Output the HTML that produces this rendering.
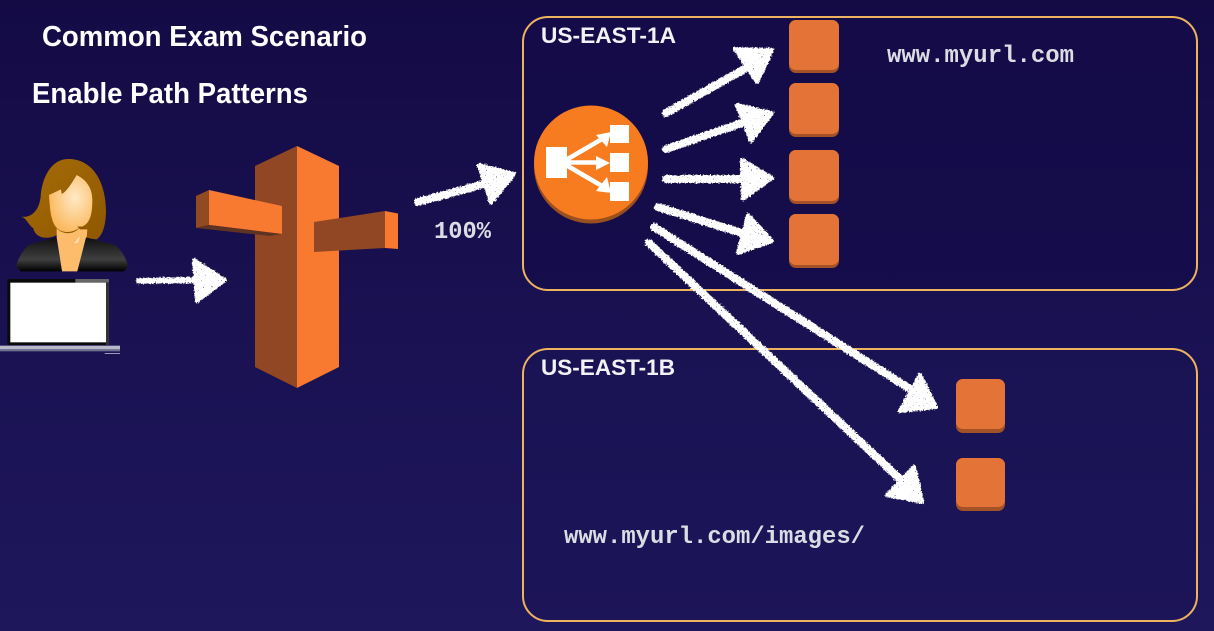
<!DOCTYPE html>
<html><head><meta charset="utf-8"><style>
html,body{margin:0;padding:0;width:1214px;height:631px;overflow:hidden;background:#17104f}
svg{display:block}
text{font-family:"Liberation Sans",sans-serif}
.h{font-weight:bold;font-size:28.500px;fill:#fff}
.z{font-weight:bold;font-size:22.500px;fill:#f2f2f6}
.m{font-family:"Liberation Mono",monospace;font-weight:bold;font-size:24px;fill:#dcdce4}
</style></head><body>
<svg width="1214" height="631" viewBox="0 0 1214 631" xmlns="http://www.w3.org/2000/svg">
<defs>
<linearGradient id="bg" x1="0" y1="0" x2="0" y2="1"><stop offset="0" stop-color="#140b45"/><stop offset="1" stop-color="#1e175c"/></linearGradient>
<radialGradient id="face" cx=".6" cy=".4" r=".62"><stop offset="0" stop-color="#ffe9c6"/><stop offset="1" stop-color="#fbb95f"/></radialGradient>
<linearGradient id="hair" x1="0" y1="0" x2="1" y2="1"><stop offset="0" stop-color="#a66c08"/><stop offset="1" stop-color="#8f5800"/></linearGradient>
<linearGradient id="coat" x1="0" y1="0" x2="0" y2="1"><stop offset="0" stop-color="#101010"/><stop offset=".65" stop-color="#3f3f3f"/><stop offset="1" stop-color="#000"/></linearGradient>
<filter id="chalk" x="-5%" y="-5%" width="110%" height="110%" color-interpolation-filters="sRGB">
<feTurbulence type="fractalNoise" baseFrequency=".6" numOctaves="2" seed="4" result="n"/>
<feDisplacementMap in="SourceGraphic" in2="n" scale="4" xChannelSelector="R" yChannelSelector="G" result="d"/>
<feColorMatrix in="n" type="matrix" values="0 0 0 0 0 0 0 0 0 0 0 0 0 0 0 22 0 0 0 -16.500" result="holes"/>
<feComposite in="d" in2="holes" operator="out"/>
</filter>
</defs>
<rect width="1214" height="631" fill="url(#bg)"/>
<rect x="523" y="17" width="674" height="273" rx="25" fill="#140c4a" fill-opacity=".6" stroke="#edb35f" stroke-width="2"/>
<rect x="523" y="349" width="674" height="272" rx="25" fill="#1b1455" fill-opacity=".6" stroke="#edb35f" stroke-width="2"/>

<text class="h" x="42" y="46" textLength="325" lengthAdjust="spacingAndGlyphs">Common Exam Scenario</text>
<text class="h" x="32" y="103" textLength="276" lengthAdjust="spacingAndGlyphs">Enable Path Patterns</text>
<text class="z" x="541" y="43" textLength="135" lengthAdjust="spacingAndGlyphs">US-EAST-1A</text>
<text class="z" x="541" y="375" textLength="134" lengthAdjust="spacingAndGlyphs">US-EAST-1B</text>
<text class="m" x="887" y="62" textLength="187" lengthAdjust="spacingAndGlyphs">www.myurl.com</text>
<text class="m" x="564" y="543" textLength="301" lengthAdjust="spacingAndGlyphs">www.myurl.com/images/</text>
<text class="m" x="434" y="238" textLength="57" lengthAdjust="spacingAndGlyphs">100%</text>

<!-- person -->
<g transform="translate(0 150) scale(.33333)">
<path d="M205 27C150 27 125 90 122 140C118 180 95 205 64 200C80 205 85 225 100 235C105 262 140 272 170 255L290 268C310 255 318 220 318 180C316 90 275 27 205 27Z" fill="url(#hair)"/>
<path d="M170 235L170 262L186 364L232 364L260 262L262 238L240 232C220 255 190 255 170 235Z" fill="#fdbc6b"/>
<path d="M230 75C215 100 200 125 185 132L183 118L147 135C150 170 150 215 172 235C190 250 215 250 240 232C265 225 277 205 277 150C277 115 260 90 230 75Z" fill="url(#face)"/>
<path d="M232 230C245 228 255 232 262 238L240 238Z" fill="#8f5800"/>
<path d="M222 280L240 258L234 278Z" fill="#ffe3b8"/>
<path d="M168 262L90 283C70 295 55 325 48 348L62 364L186 364ZM258 262L345 285C365 300 378 325 385 348L372 364L232 364Z" fill="url(#coat)"/>
</g>
<!-- laptop -->
<g transform="translate(0 130) scale(.33333)">
<rect x="22" y="447" width="305" height="198" rx="3" fill="#0a0a0a"/>
<path d="M226 447H327V458H226Z" fill="#666"/>
<rect x="31" y="458" width="287" height="179" fill="#fff"/>
<rect x="318" y="458" width="9" height="187" fill="#333"/>
<rect x="0" y="647" width="360" height="11" fill="#b7b9c9"/>
<rect x="0" y="658" width="360" height="6" fill="#6f7090"/>
<rect x="314" y="669" width="46" height="3" fill="#9a9cb5"/>
</g>

<!-- Route 53 -->
<g>
<path d="M297 146L255 166V367L297 388Z" fill="#914723"/>
<path d="M297 146L339 166V367L297 388Z" fill="#f77a30"/>
<path d="M209 190L282 206V234L209 225Z" fill="#f77a30"/>
<path d="M196 196L209 190V225L196 228Z" fill="#924a22"/>
<path d="M196 228L209 225L282 234L270 236Z" fill="#5f3322"/>
<path d="M314 222L385 211V248L314 252Z" fill="#914723"/>
<path d="M385 211L398 213.500V249L385 248Z" fill="#f77a30"/>
</g>

<!-- ELB -->
<circle cx="591" cy="166.500" r="57" fill="#9a4f1f"/>
<circle cx="591" cy="162.500" r="57" fill="#f77c20"/>
<g fill="#fff">
<rect x="546" y="147" width="21" height="31"/>
<rect x="610" y="125" width="19" height="18"/>
<rect x="610" y="153" width="19" height="19"/>
<rect x="610" y="182" width="19" height="19"/>
<path d="M596 135L611 132L607 147Z"/>
<path d="M596 156L610 163L596 170Z"/>
<path d="M607 177L611 193L596 191Z"/>
<path d="M566 160L602 139M567 162.500H600M566 165L602 186" stroke="#fff" stroke-width="4.500" fill="none"/>
</g>

<!-- instances -->
<g fill="#a35228">
<rect x="789" y="20" width="50" height="53" rx="7"/><rect x="789" y="83" width="50" height="54" rx="7"/>
<rect x="789" y="150" width="50" height="54" rx="7"/><rect x="789" y="214" width="50" height="54" rx="7"/>
<rect x="956" y="379" width="49" height="54" rx="7"/><rect x="956" y="458" width="49" height="53" rx="7"/>
</g>
<g fill="#e37336">
<rect x="789" y="20" width="50" height="50" rx="7"/><rect x="789" y="83" width="50" height="51" rx="7"/>
<rect x="789" y="150" width="50" height="51" rx="7"/><rect x="789" y="214" width="50" height="51" rx="7"/>
<rect x="956" y="379" width="49" height="50" rx="7"/><rect x="956" y="458" width="49" height="49" rx="7"/>
</g>

<!-- chalk arrows -->
<g filter="url(#chalk)" fill="#fff" stroke="#fff" stroke-linejoin="round" stroke-linecap="round">
<path d="M139 281L196 280" stroke-width="6" fill="none"/><path d="M194 260L225 280L197 301Z" stroke-width="4"/>
<path d="M418 202L484 184" stroke-width="8" fill="none"/><path d="M479 165L514 174L491 203Z" stroke-width="4"/>
<path d="M666 113L748 67" stroke-width="8" fill="none"/><path d="M735 49L772 50L757 82Z" stroke-width="4"/>
<path d="M666 149L745 122" stroke-width="8" fill="none"/><path d="M737 105L772 113L751 141Z" stroke-width="4"/>
<path d="M666 179L745 179" stroke-width="8" fill="none"/><path d="M742 160L772 178L743 199Z" stroke-width="4"/>
<path d="M658 207L745 234" stroke-width="8" fill="none"/><path d="M748 215L772 241L738 253Z" stroke-width="4"/>
<path d="M654 227L915 392" stroke-width="8" fill="none"/><path d="M920 375L936 407L900 411Z" stroke-width="4"/>
<path d="M649 243L902 481" stroke-width="8" fill="none"/><path d="M914 467L922 502L887 495Z" stroke-width="4"/>
</g>
</svg>
</body></html>
